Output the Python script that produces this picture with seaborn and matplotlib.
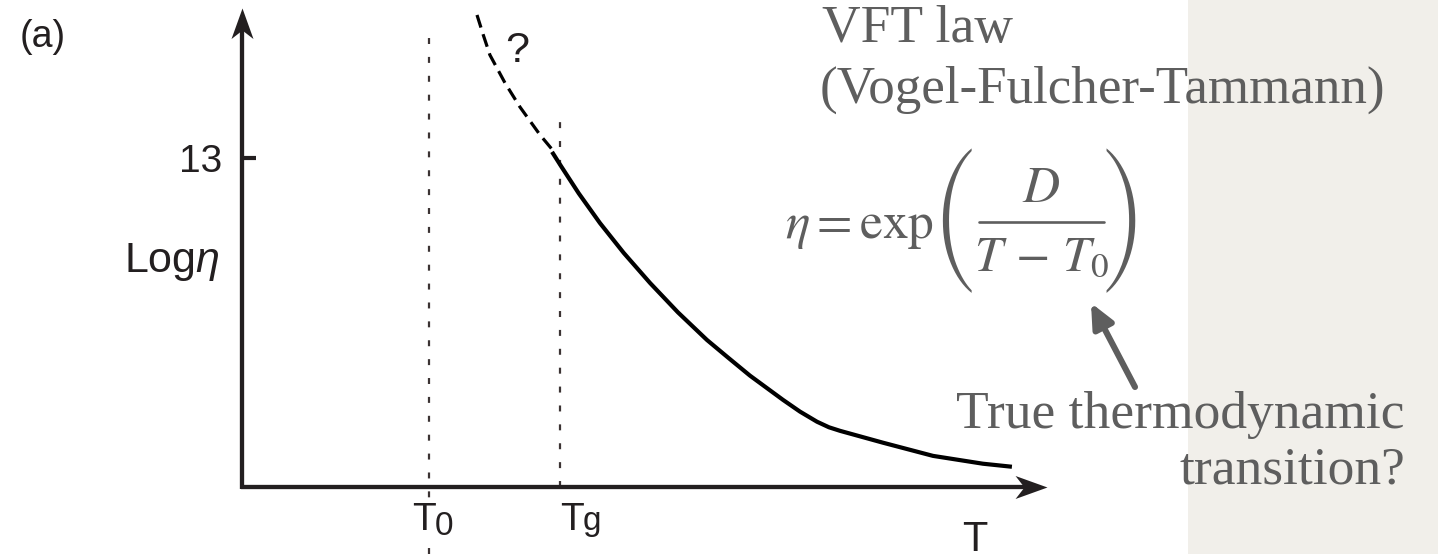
import matplotlib
matplotlib.use("Agg")
import matplotlib.pyplot as plt
from matplotlib.path import Path
from matplotlib.patches import Rectangle
from matplotlib.lines import Line2D
import seaborn as sns
import pandas as pd

# ---- schematic data (arbitrary temperature units, log10 viscosity) ----
T_solid = [265.7, 270.5, 280.0, 291.3, 304.0, 318.1, 333.0, 348.5, 360.0, 371.5,
           389.2, 398.2, 407.3, 413.7, 419.6, 442.6, 469.3, 496.0, 511.5]
logeta_solid = [13.24, 12.68, 11.60, 10.43, 9.25, 8.06, 6.90, 5.81, 5.10, 4.40,
                3.44, 2.98, 2.58, 2.36, 2.22, 1.75, 1.23, 0.92, 0.80]
T_dashed = [225.6, 229.0, 232.5, 240.6, 248.6, 259.3, 267.3]
logeta_dashed = [18.65, 17.85, 17.07, 15.96, 15.01, 13.91, 13.20]

T_origin = 100.0      # where the two axes meet
T_axis_end = 530.0    # tip of the temperature arrow
T0 = 200.0            # VFT divergence temperature
Tg = 270.0            # glass transition
eta_tick = 13         # log viscosity at Tg
eta_axis_top = 18.93  # tip of the viscosity arrow
T0_line_top = 17.98
Tg_line_top = 14.78

W, H, DPI = 1438, 554, 100
INK = "#231f20"
GREY = "#5e5e5e"
PANEL = "#f1efea"

sns.set_theme(style="white")
plt.rcParams["font.family"] = ["Liberation Sans", "DejaVu Sans"]
plt.rcParams["mathtext.fontset"] = "custom"
plt.rcParams["mathtext.rm"] = "Liberation Sans"
plt.rcParams["mathtext.it"] = "Liberation Sans:italic"
plt.rcParams["lines.scale_dashes"] = False

fig = plt.figure(figsize=(W / DPI, H / DPI), dpi=DPI)
fig.patch.set_facecolor("white")


def fx(x):
    return x / W


def fy(y):
    return 1 - y / H


# light side panel behind the right-hand notes
fig.patches.append(Rectangle((fx(1188), 0), 1 - fx(1188), 1, transform=fig.transFigure,
                             facecolor=PANEL, edgecolor="none", zorder=0))

ax = fig.add_axes([0, 0, 1, 1])
ax.set_facecolor("none")
px_per_T = 1.871
px_per_eta = 25.31
ox, oy = 242, 487  # pixel position of the axes corner
ax.set_xlim(T_origin - ox / px_per_T, T_origin + (W - ox) / px_per_T)
ax.set_ylim(-(H - oy) / px_per_eta, oy / px_per_eta)
ax.axis("off")

# viscosity curve: measured part (solid) and extrapolation below Tg (dashed)
df_solid = pd.DataFrame({"T": T_solid, "logeta": logeta_solid})
df_dash = pd.DataFrame({"T": T_dashed, "logeta": logeta_dashed})
sns.lineplot(data=df_solid, x="T", y="logeta", ax=ax, color="black", lw=3.0,
             sort=False, estimator=None, solid_capstyle="butt",
             solid_joinstyle="round", zorder=4)
sns.lineplot(data=df_dash, x="T", y="logeta", ax=ax, color="black", lw=2.3,
             sort=False, estimator=None, linestyle=(0, (9.5, 5.0)),
             dash_capstyle="butt", zorder=4)

# reference temperatures
ax.plot([T0, T0], [ax.get_ylim()[0], T0_line_top], color="#3b3333", lw=1.6,
        linestyle=(0, (4.3, 9.3)), dash_capstyle="butt", zorder=2)
ax.plot([Tg, Tg], [0, Tg_line_top], color="#3b3333", lw=1.6,
        linestyle=(0, (4.3, 9.3)), dash_capstyle="butt", zorder=2)

# axes with stealth-style arrow heads
x0 = T_origin - 1.5 / px_per_T
ax.plot([x0, T_axis_end - 20 / px_per_T], [0, 0], color=INK, lw=3.1,
        solid_capstyle="butt", zorder=5)
ax.plot([T_origin, T_origin], [-2 / px_per_eta, eta_axis_top - 20 / px_per_eta],
        color=INK, lw=3.1, solid_capstyle="butt", zorder=5)
head_x = Path([(0, 0), (-1, 0.36), (-0.72, 0), (-1, -0.36), (0, 0)],
              [Path.MOVETO, Path.LINETO, Path.LINETO, Path.LINETO, Path.CLOSEPOLY])
head_y = Path([(0, 0), (0.36, -1), (0, -0.72), (-0.36, -1), (0, 0)],
              [Path.MOVETO, Path.LINETO, Path.LINETO, Path.LINETO, Path.CLOSEPOLY])
ax.plot([T_axis_end], [0], marker=head_x, markersize=46, color=INK,
        markeredgewidth=0, zorder=6)
ax.plot([T_origin], [eta_axis_top], marker=head_y, markersize=44, color=INK,
        markeredgewidth=0, zorder=6)

# tick at log(eta) = 13
ax.plot([T_origin, T_origin + 14 / px_per_T], [eta_tick, eta_tick], color=INK,
        lw=3.0, solid_capstyle="butt", zorder=5)
ax.annotate(str(eta_tick), xy=(T_origin, eta_tick), xytext=(-20, 0),
            textcoords="offset pixels", ha="right", va="center_baseline",
            fontsize=28, color=INK)
ax.annotate(r"Log$\it{\eta}$", xy=(T_origin, 9.1), xytext=(-22, 0),
            textcoords="offset pixels", ha="right", va="center_baseline",
            fontsize=31, color=INK)

# temperature labels under the axis
ax.annotate("T", xy=(T0, 0), xytext=(-17, -43), textcoords="offset pixels",
            ha="left", va="baseline", fontsize=28, color=INK,
            bbox=dict(facecolor="white", edgecolor="none", pad=0.5))
ax.annotate("0", xy=(T0, 0), xytext=(6, -48), textcoords="offset pixels",
            ha="left", va="baseline", fontsize=24, color=INK)
ax.annotate("T", xy=(Tg, 0), xytext=(0, -43), textcoords="offset pixels",
            ha="left", va="baseline", fontsize=28, color=INK)
ax.annotate("g", xy=(Tg, 0), xytext=(23, -43), textcoords="offset pixels",
            ha="left", va="baseline", fontsize=24, color=INK)
ax.annotate("T", xy=(T_axis_end, 0), xytext=(-84, -64), textcoords="offset pixels",
            ha="left", va="baseline", fontsize=30, color=INK)

ax.annotate("?", xy=(T_dashed[0], logeta_dashed[0]), xytext=(28, -47),
            textcoords="offset pixels", ha="left", va="baseline",
            fontsize=31, color=INK)

# panel label
fig.text(fx(20), fy(47), "(a)", ha="left", va="baseline", fontsize=27, color=INK)

# notes on the right
serif = ["Liberation Serif", "DejaVu Serif"]
fig.text(fx(822), fy(42), "VFT law", family=serif, fontsize=38.5, color=GREY,
         ha="left", va="baseline")
fig.text(fx(820), fy(103), "(Vogel-Fulcher-Tammann)", family=serif, fontsize=38.2,
         color=GREY, ha="left", va="baseline")

# VFT equation, set piece by piece so the parentheses span the whole fraction
fig.text(fx(785), fy(238), r"$\eta = \exp$", math_fontfamily="stix", fontsize=37,
         color=GREY, ha="left", va="baseline")
paren_fam = ["STIXSizeFourSym", "STIXGeneral", "DejaVu Serif"]
fig.text(fx(955), fy(221), "(", family=paren_fam, fontsize=34, color=GREY,
         ha="center", va="center")
fig.text(fx(1122), fy(221), ")", family=paren_fam, fontsize=34, color=GREY,
         ha="center", va="center")
fig.text(fx(1041), fy(202), r"$D$", math_fontfamily="stix", fontsize=37,
         color=GREY, ha="center", va="baseline")
fig.add_artist(Line2D([fx(979), fx(1104)], [fy(222), fy(222)], color=GREY, lw=1.9,
                      transform=fig.transFigure))
fig.text(fx(1042), fy(270), r"$T\,-\,T_0$", math_fontfamily="stix", fontsize=36,
         color=GREY, ha="center", va="baseline")

fig.text(fx(1405), fy(428), "True thermodynamic", family=serif, fontsize=38.5,
         color=GREY, ha="right", va="baseline")
fig.text(fx(1405), fy(484), "transition?", family=serif, fontsize=38.5,
         color=GREY, ha="right", va="baseline")
ax.annotate("", xy=(fx(1091), fy(303)), xytext=(fx(1135), fy(387)),
            xycoords="figure fraction", textcoords="figure fraction",
            arrowprops=dict(arrowstyle="-|>,head_length=1.2,head_width=0.55",
                            color=GREY, lw=4.4, shrinkA=0, shrinkB=0))

fig.savefig("out.png", dpi=DPI)
